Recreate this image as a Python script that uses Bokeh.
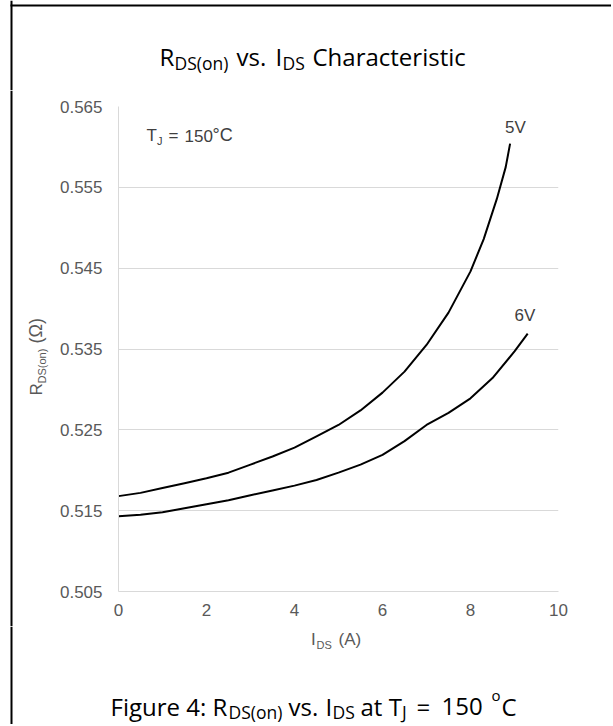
import numpy as np
from bokeh.plotting import figure
from bokeh.layouts import column, row
from bokeh.models import Range1d, FixedTicker, PrintfTickFormatter
from bokeh.core.properties import value
from bokeh.embed import file_html
from bokeh.resources import INLINE

# ---------------- data ----------------
ids_5v = [0, 0.5, 1, 1.5, 2, 2.5, 3, 3.5, 4, 4.5, 5, 5.5, 6, 6.5, 7, 7.5, 8, 8.3, 8.6, 8.8, 8.9]
rds_5v = [0.5168, 0.5172, 0.5178, 0.5184, 0.5190, 0.5197, 0.5207, 0.5217, 0.5228, 0.5242,
          0.5256, 0.5274, 0.5296, 0.5322, 0.5355, 0.5395, 0.5446, 0.5486, 0.5536, 0.5575, 0.5604]
ids_6v = [0, 0.5, 1, 1.5, 2, 2.5, 3, 3.5, 4, 4.5, 5, 5.5, 6, 6.5, 7, 7.5, 8, 8.5, 9, 9.3]
rds_6v = [0.5143, 0.5145, 0.5148, 0.5153, 0.5158, 0.5163, 0.5169, 0.5175, 0.5181, 0.5188,
          0.5197, 0.5207, 0.5219, 0.5236, 0.5256, 0.5271, 0.5289, 0.5314, 0.5347, 0.5369]
series_names = ["5V", "6V"]
x_ticks = [0, 2, 4, 6, 8, 10]
y_ticks = [0.505, 0.515, 0.525, 0.535, 0.545, 0.555, 0.565]
X_MIN, X_MAX = 0, 10
Y_MIN, Y_MAX = 0.505, 0.565

# ---------------- styling ----------------
TFONT = "Open Sans"
CFONT = "Liberation Sans"
MID = {TFONT: 0.39, CFONT: 0.35}         # distance from baseline to text middle, in em
TICK_COLOR = "#595959"
TEXT_COLOR = "#404040"
GRID = "#d9d9d9"

W = 611
FL, FR, FT, FB = 118, 558, 106, 591      # plot-area edges (page pixels)
MAIN_X, MAIN_Y = 56, 90                  # page origin of the chart figure
MAIN_W, MAIN_H = W - MAIN_X, 626 - 90
BOT_Y, BOT_H = MAIN_Y + MAIN_H, 98


def blank(w, h, ox, oy):
    f = figure(width=w, height=h, x_range=Range1d(0, w), y_range=Range1d(h, 0),
               x_axis_location=None, y_axis_location=None, toolbar_location=None,
               output_backend="svg", min_border=0, outline_line_color=None, frame_align=False)
    f.grid.visible = False
    # left rule of the framing box (page x 10..12)
    f.quad(left=[10 - ox], right=[12 - ox], top=[0], bottom=[h], fill_color="black", line_color=None)
    return f


def put(f, ox, oy, txt, px, base, size, font, color, rotated=False):
    """px: left edge, base: baseline (page pixels); drawn with a middle anchor."""
    shift = MID[font] * size
    if rotated:
        x, y, ang = base - shift, px, np.pi / 2
    else:
        x, y, ang = px, base - shift, 0.0
    f.text(x=[x - ox], y=[y - oy], text=[txt], text_font=value(font), text_font_size=f"{size}px",
           text_color=color, angle=ang, text_align="left", text_baseline="middle")


# ---------------- top: title ----------------
top = blank(W, MAIN_Y, 0, 0)
top.quad(left=[10], right=[W], top=[4], bottom=[6], fill_color="black", line_color=None)
for txt, px, py, sz in [("R", 159, 65, 24), ("DS(on)", 174, 69, 17.5), ("vs.", 236, 65, 24),
                        ("I", 275, 65, 24), ("DS", 282, 69, 17.5), ("Characteristic", 312, 65, 24)]:
    put(top, 0, 0, txt, px, py, sz, TFONT, "black")

# ---------------- left: y-axis label (rotated, reads upward) ----------------
left = blank(MAIN_X, MAIN_H, 0, MAIN_Y)
for txt, py, px_base, sz in [("R", 395, 42, 17), ("DS(on)", 383, 45, 11), ("(\u03a9)", 343, 42, 18)]:
    put(left, 0, MAIN_Y, txt, py, px_base, sz, CFONT, TICK_COLOR, rotated=True)

# ---------------- main chart ----------------
p = figure(width=MAIN_W, height=MAIN_H, x_range=Range1d(X_MIN, X_MAX), y_range=Range1d(Y_MIN, Y_MAX),
           toolbar_location=None, output_backend="svg", outline_line_color=None, frame_align=False,
           min_border_left=FL - MAIN_X, min_border_right=W - FR,
           min_border_top=FT - MAIN_Y, min_border_bottom=MAIN_Y + MAIN_H - FB)

p.line(ids_5v, rds_5v, line_color="black", line_width=2)
p.line(ids_6v, rds_6v, line_color="black", line_width=2)

p.xaxis.ticker = FixedTicker(ticks=x_ticks)
p.yaxis.ticker = FixedTicker(ticks=y_ticks)
p.yaxis.formatter = PrintfTickFormatter(format="%.3f")
for ax in p.axis:
    ax.major_tick_line_color = None
    ax.minor_tick_line_color = None
    ax.major_tick_out = 0
    ax.major_tick_in = 0
    ax.minor_tick_out = 0
    ax.minor_tick_in = 0
    ax.axis_line_color = GRID
    ax.major_label_text_font = CFONT
    ax.major_label_text_font_size = "17px"
    ax.major_label_text_color = TICK_COLOR
p.yaxis.major_label_standoff = 16
p.xaxis.major_label_standoff = 12
p.xgrid.visible = False
p.ygrid.ticker = FixedTicker(ticks=y_ticks)
p.ygrid.grid_line_color = GRID


def dx(px):
    return X_MIN + (px - FL) / (FR - FL) * (X_MAX - X_MIN)


def dy(py):
    return Y_MAX - (py - FT) / (FB - FT) * (Y_MAX - Y_MIN)


def put_in(txt, px, py, size, align="left"):
    """px: left edge (or centre), py: vertical middle of the text, page pixels."""
    p.text(x=[dx(px)], y=[dy(py)], text=[txt], text_font=value(CFONT), text_font_size=f"{size}px",
           text_color=TEXT_COLOR, text_align=align, text_baseline="middle")


# series labels next to curve ends
put_in(series_names[0], 515, 127, 17, align="center")
put_in(series_names[1], 524.5, 315, 17, align="center")
# T_J annotation (baselines converted to middles)
for txt, px, py, sz in [("T", 146, 141, 17), ("J", 156.5, 144, 11), ("=", 168, 141, 17),
                        ("150", 184, 141, 17), ("\u00b0C", 212, 141, 18)]:
    put_in(txt, px, py - MID[CFONT] * sz, sz)

# ---------------- bottom: x label + caption ----------------
bot = blank(W, BOT_H, 0, BOT_Y)
for txt, px, py, sz in [("I", 310.5, 645, 17), ("DS", 316, 648, 11), ("(A)", 338, 645, 17)]:
    put(bot, 0, BOT_Y, txt, px, py, sz, CFONT, TICK_COLOR)
for txt, px, py, sz in [("Figure 4: R", 110, 715, 24), ("DS(on)", 228, 718, 17.5), ("vs.", 288, 715, 24),
                        ("I", 325, 715, 24), ("DS", 332, 718, 17.5), ("at T", 360, 715, 24),
                        ("J", 401.5, 718, 17.5), ("=", 416, 715, 24), ("150", 441, 715, 24),
                        ("o", 491, 700, 15), ("C", 501, 715, 24)]:
    put(bot, 0, BOT_Y, txt, px, py, sz, TFONT, "black")

layout = column(top, row(left, p, spacing=0), bot, spacing=0)

open("out.html", "w").write(file_html(layout, INLINE))
